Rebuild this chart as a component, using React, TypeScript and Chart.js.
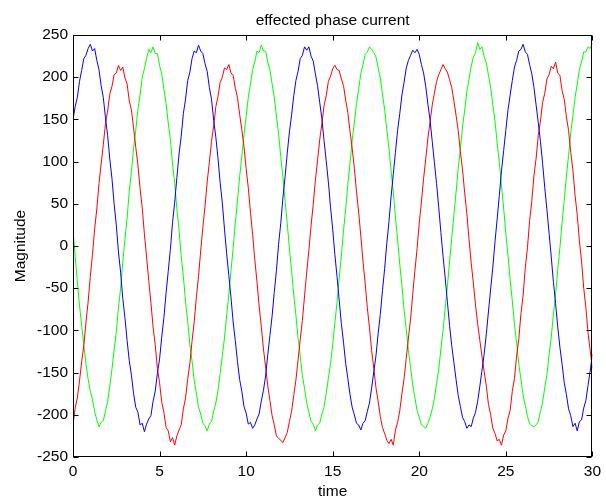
import React, { useEffect, useRef } from "react";
import { Chart, registerables } from "chart.js";

Chart.register(...registerables);

const chartTitle = "effected phase current";
const xLabel = "time";
const yLabel = "Magnitude";

const xTicks = [0, 5, 10, 15, 20, 25, 30];
const yTicks = [-250, -200, -150, -100, -50, 0, 50, 100, 150, 200, 250];

const time = [
  0, 0.125, 0.25, 0.375, 0.5, 0.625, 0.75, 0.875,
  1, 1.125, 1.25, 1.375, 1.5, 1.625, 1.75, 1.875,
  2, 2.125, 2.25, 2.375, 2.5, 2.625, 2.75, 2.875,
  3, 3.125, 3.25, 3.375, 3.5, 3.625, 3.75, 3.875,
  4, 4.125, 4.25, 4.375, 4.5, 4.625, 4.75, 4.875,
  5, 5.125, 5.25, 5.375, 5.5, 5.625, 5.75, 5.875,
  6, 6.125, 6.25, 6.375, 6.5, 6.625, 6.75, 6.875,
  7, 7.125, 7.25, 7.375, 7.5, 7.625, 7.75, 7.875,
  8, 8.125, 8.25, 8.375, 8.5, 8.625, 8.75, 8.875,
  9, 9.125, 9.25, 9.375, 9.5, 9.625, 9.75, 9.875,
  10, 10.125, 10.25, 10.375, 10.5, 10.625, 10.75, 10.875,
  11, 11.125, 11.25, 11.375, 11.5, 11.625, 11.75, 11.875,
  12, 12.125, 12.25, 12.375, 12.5, 12.625, 12.75, 12.875,
  13, 13.125, 13.25, 13.375, 13.5, 13.625, 13.75, 13.875,
  14, 14.125, 14.25, 14.375, 14.5, 14.625, 14.75, 14.875,
  15, 15.125, 15.25, 15.375, 15.5, 15.625, 15.75, 15.875,
  16, 16.125, 16.25, 16.375, 16.5, 16.625, 16.75, 16.875,
  17, 17.125, 17.25, 17.375, 17.5, 17.625, 17.75, 17.875,
  18, 18.125, 18.25, 18.375, 18.5, 18.625, 18.75, 18.875,
  19, 19.125, 19.25, 19.375, 19.5, 19.625, 19.75, 19.875,
  20, 20.125, 20.25, 20.375, 20.5, 20.625, 20.75, 20.875,
  21, 21.125, 21.25, 21.375, 21.5, 21.625, 21.75, 21.875,
  22, 22.125, 22.25, 22.375, 22.5, 22.625, 22.75, 22.875,
  23, 23.125, 23.25, 23.375, 23.5, 23.625, 23.75, 23.875,
  24, 24.125, 24.25, 24.375, 24.5, 24.625, 24.75, 24.875,
  25, 25.125, 25.25, 25.375, 25.5, 25.625, 25.75, 25.875,
  26, 26.125, 26.25, 26.375, 26.5, 26.625, 26.75, 26.875,
  27, 27.125, 27.25, 27.375, 27.5, 27.625, 27.75, 27.875,
  28, 28.125, 28.25, 28.375, 28.5, 28.625, 28.75, 28.875,
  29, 29.125, 29.25, 29.375, 29.5, 29.625, 29.75, 29.875,
  30,
];

const bluePhase = [
  150, 165, 176, 195, 208, 222, 226, 234,
  239, 231, 234, 220, 209, 190, 176, 152,
  131, 103, 80, 50, 25, -7, -31, -62,
  -85, -112, -136, -153, -175, -191, -197, -212,
  -210, -220, -211, -205, -201, -184, -172, -151,
  -134, -108, -85, -56, -30, -4, 28, 52,
  81, 109, 130, 157, 174, 196, 206, 222,
  231, 229, 238, 231, 228, 216, 207, 188,
  174, 149, 129, 104, 75, 51, 20, -9,
  -35, -61, -90, -112, -137, -158, -172, -190,
  -198, -211, -209, -216, -212, -205, -199, -184,
  -171, -154, -129, -106, -83, -55, -29, 2,
  27, 57, 82, 110, 135, 155, 178, 196,
  207, 222, 226, 236, 232, 236, 225, 219,
  204, 190, 170, 151, 125, 101, 76, 46,
  20, -10, -36, -64, -92, -114, -139, -157,
  -176, -191, -200, -210, -212, -218, -210, -207,
  -196, -186, -168, -149, -130, -104, -81, -53,
  -27, 3, 29, 59, 85, 111, 137, 157,
  179, 194, 211, 220, 226, 232, 229, 233,
  227, 215, 205, 189, 168, 149, 124, 99,
  74, 46, 16, -12, -38, -66, -94, -118,
  -138, -158, -177, -190, -203, -208, -216, -212,
  -214, -204, -197, -184, -166, -147, -128, -104,
  -77, -51, -25, 5, 32, 60, 89, 113,
  137, 161, 179, 196, 212, 220, 231, 233,
  239, 230, 227, 215, 204, 188, 167, 146,
  124, 98, 69, 43, 15, -13, -43, -68,
  -96, -120, -140, -162, -176, -193, -201, -214,
  -210, -219, -208, -206, -192, -183, -165, -148,
  -128,
];

const redPhase = [
  -212, -192, -180, -160, -137, -118, -90, -66,
  -36, -10, 20, 44, 74, 97, 120, 145,
  160, 180, 189, 203, 205, 214, 208, 212,
  199, 192, 172, 161, 140, 117, 96, 68,
  45, 14, -13, -41, -67, -96, -117, -145,
  -162, -185, -197, -215, -219, -232, -227, -236,
  -225, -218, -212, -193, -180, -158, -139, -113,
  -90, -61, -36, -6, 22, 47, 76, 99,
  124, 142, 165, 177, 194, 200, 211, 209,
  215, 205, 202, 187, 176, 156, 138, 118,
  92, 69, 40, 14, -16, -42, -71, -95,
  -122, -143, -166, -183, -201, -212, -225, -228,
  -230, -233, -227, -221, -208, -196, -177, -159,
  -135, -111, -88, -59, -31, -5, 24, 49,
  78, 101, 126, 145, 166, 178, 195, 201,
  210, 214, 209, 208, 198, 190, 173, 158,
  136, 116, 92, 65, 40, 12, -18, -44,
  -73, -97, -124, -145, -168, -184, -202, -215,
  -222, -230, -234, -229, -236, -218, -209, -195,
  -175, -157, -133, -109, -86, -57, -29, -3,
  27, 52, 80, 103, 128, 147, 167, 181,
  195, 203, 209, 215, 210, 206, 197, 188,
  172, 155, 137, 112, 90, 63, 38, 8,
  -20, -44, -70, -92, -112, -131, -149, -166,
  -188, -200, -216, -222, -231, -229, -236, -224,
  -219, -204, -195, -172, -157, -130, -110, -80,
  -58, -26, -2, 30, 53, 83, 104, 131,
  148, 170, 181, 198, 203, 213, 210, 218,
  205, 202, 184, 174, 153, 137, 111, 90,
  60, 37, 6, -18, -50, -73, -103, -124,
  -145,
];

const greenPhase = [
  18, -12, -42, -70, -94, -118, -140, -158,
  -172, -182, -196, -206, -214, -209, -207, -196,
  -184, -166, -146, -123, -102, -73, -50, -19,
  8, 33, 65, 88, 116, 137, 162, 179,
  200, 210, 222, 233, 229, 236, 228, 228,
  214, 204, 186, 169, 146, 126, 97, 74,
  44, 19, -12, -36, -66, -89, -117, -136,
  -159, -174, -191, -199, -210, -213, -219, -211,
  -208, -196, -186, -171, -151, -130, -109, -82,
  -58, -29, -3, 27, 53, 82, 106, 132,
  153, 176, 192, 209, 218, 231, 229, 238,
  231, 231, 218, 209, 192, 176, 154, 133,
  106, 82, 53, 27, -3, -29, -58, -82,
  -109, -130, -153, -169, -186, -197, -208, -211,
  -219, -212, -210, -199, -191, -175, -157, -139,
  -117, -91, -67, -38, -12, 18, 44, 73,
  98, 125, 146, 169, 186, 204, 215, 227,
  230, 236, 233, 229, 224, 211, 199, 180,
  162, 138, 116, 89, 64, 34, 8, -22,
  -47, -76, -99, -124, -144, -165, -180, -195,
  -203, -212, -214, -216, -210, -203, -193, -181,
  -163, -146, -122, -100, -73, -48, -19, 9,
  37, 63, 92, 115, 141, 161, 183, 198,
  213, 224, 229, 241, 233, 236, 224, 217,
  202, 188, 167, 148, 122, 99, 71, 45,
  15, -11, -40, -65, -93, -115, -140, -158,
  -177, -189, -202, -210, -213, -214, -212, -208,
  -196, -185, -168, -152, -129, -108, -81, -57,
  -28, -2, 28, 54, 83, 107, 134, 154,
  176, 192, 209, 218, 230, 230, 236, 234,
  240,
];

const FONT = '"Liberation Sans", Arial, Helvetica, sans-serif';
const FONT_SIZE = 15.5;

const toPoints = (ys: number[]) => ys.map((y, i) => ({ x: time[i], y }));

const matlabBox = {
  id: "matlabBox",
  afterDatasetsDraw(chart: any) {
    const { ctx, chartArea: a, scales } = chart;
    ctx.save();
    ctx.strokeStyle = "#000";
    ctx.lineWidth = 1;
    const L = Math.round(a.left) + 0.5;
    const R = Math.round(a.right) - 0.5;
    const T = Math.round(a.top) + 0.5;
    const B = Math.round(a.bottom) - 0.5;
    ctx.strokeRect(L, T, R - L, B - T);
    ctx.beginPath();
    for (const v of xTicks) {
      const x = Math.round(scales.x.getPixelForValue(v)) + 0.5;
      ctx.moveTo(x, B);
      ctx.lineTo(x, B - 5);
      ctx.moveTo(x, T);
      ctx.lineTo(x, T + 5);
    }
    for (const v of yTicks) {
      const y = Math.round(scales.y.getPixelForValue(v)) + 0.5;
      ctx.moveTo(L, y);
      ctx.lineTo(L + 5, y);
      ctx.moveTo(R, y);
      ctx.lineTo(R - 5, y);
    }
    ctx.stroke();
    ctx.fillStyle = "#000";
    ctx.font = `${FONT_SIZE}px ${FONT}`;
    ctx.textAlign = "center";
    ctx.textBaseline = "alphabetic";
    ctx.fillText(chartTitle, (a.left + a.right) / 2, 25);
    ctx.restore();
  },
};

export default function App() {
  const canvasRef = useRef<HTMLCanvasElement | null>(null);

  useEffect(() => {
    const canvas = canvasRef.current;
    if (!canvas) return;
    const font = { family: FONT, size: FONT_SIZE };
    const chart = new Chart(canvas, {
      type: "line",
      data: {
        datasets: [
          { label: "A", data: toPoints(bluePhase), borderColor: "#0000ff", borderWidth: 1, pointRadius: 0, tension: 0, fill: false },
          { label: "B", data: toPoints(redPhase), borderColor: "#ff0000", borderWidth: 1, pointRadius: 0, tension: 0, fill: false },
          { label: "C", data: toPoints(greenPhase), borderColor: "#00ff00", borderWidth: 1, pointRadius: 0, tension: 0, fill: false },
        ],
      },
      options: {
        animation: false,
        responsive: false,
        devicePixelRatio: 1,
        events: [],
        layout: { padding: { top: 35, right: 6, left: 0, bottom: 0 }, autoPadding: false },
        plugins: {
          legend: { display: false },
          tooltip: { enabled: false },
          title: { display: false },
        },
        scales: {
          x: {
            type: "linear",
            min: 0,
            max: 30,
            afterBuildTicks: (s: any) => { s.ticks = xTicks.map((v) => ({ value: v })); },
            ticks: { color: "#000", font, padding: 5, maxRotation: 0, autoSkip: false },
            grid: { display: false, drawTicks: false },
            border: { display: false },
            title: { display: true, text: xLabel, color: "#000", font, padding: { top: 0, bottom: 0 } },
            afterFit: (s: any) => { s.height = 44; },
          },
          y: {
            type: "linear",
            min: -250,
            max: 250,
            afterBuildTicks: (s: any) => { s.ticks = yTicks.map((v) => ({ value: v })); },
            ticks: { color: "#000", font, padding: 5, autoSkip: false },
            grid: { display: false, drawTicks: false },
            border: { display: false },
            title: { display: true, text: yLabel, color: "#000", font, padding: { top: 11.3, bottom: 0 } },
            afterFit: (s: any) => { s.width = 73; },
          },
        },
      },
      plugins: [matlabBox],
    });
    return () => chart.destroy();
  }, []);

  return (
    <div style={{ position: "absolute", left: 0, top: 0, width: 606, height: 501, background: "#fff" }}>
      <canvas ref={canvasRef} width={606} height={501} style={{ display: "block" }} />
    </div>
  );
}
